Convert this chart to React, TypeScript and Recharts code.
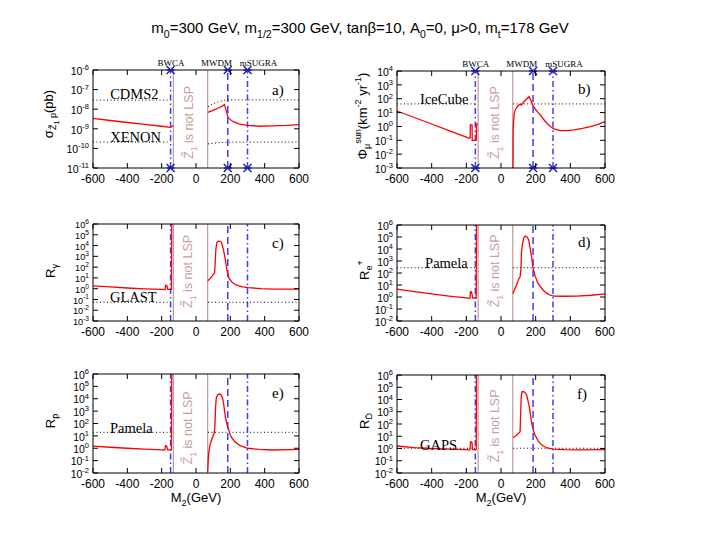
import React from 'react';
import { ComposedChart, Line, XAxis, YAxis, ReferenceLine, ReferenceDot, Scatter } from 'recharts';

type P = [number, number];

// ---------- axes ----------
const X_TICKS = [-600, -400, -200, 0, 200, 400, 600];
const A_TICKS = [1e-11, 1e-10, 1e-9, 1e-8, 1e-7, 1e-6];
const B_TICKS = [1e-3, 1e-2, 1e-1, 1, 10, 100, 1e3, 1e4];
const C_TICKS = [1e-3, 1e-2, 1e-1, 1, 10, 100, 1e3, 1e4, 1e5, 1e6];
const R_TICKS = [1e-2, 1e-1, 1, 10, 100, 1e3, 1e4, 1e5, 1e6];

// ---------- vertical markers ----------
const BWCA_X = -148;
const MWDM_X = 185;
const MSUGRA_X = 300;
const LSP_LO = -132;
const LSP_HI = 68;
const MARK_LABELS: [string, number][] = [['BWCA', -146], ['MWDM', 120], ['mSUGRA', 364]];

// ---------- panel a: sigma ----------
const A_RED_L: P[] = [[-600, 3.4e-9], [-500, 2.65e-9], [-400, 2.1e-9], [-300, 1.7e-9], [-200, 1.35e-9], [-150, 1.18e-9], [-142, 1.25e-9], [-133, 1.5e-9]];
const A_RED_R: P[] = [[68, 6.9e-9], [100, 8.8e-9], [130, 1.15e-8], [150, 1.4e-8], [166, 1.75e-8], [185, 4.2e-9], [195, 3.2e-9], [217, 2.3e-9], [250, 1.8e-9], [300, 1.5e-9], [370, 1.35e-9], [450, 1.4e-9], [530, 1.5e-9], [600, 1.65e-9]];
const A_CDMS_L: P[] = [[-600, 2.9e-8], [-150, 2.9e-8]];
const A_CDMS_R: P[] = [[70, 1.35e-8], [100, 1.9e-8], [130, 2.4e-8], [160, 2.8e-8], [190, 3e-8], [600, 3e-8]];
const A_XENON_L: P[] = [[-600, 2.1e-10], [-150, 2.1e-10]];
const A_XENON_R: P[] = [[70, 1.7e-10], [100, 1.85e-10], [150, 2e-10], [200, 2.1e-10], [600, 2.1e-10]];

// ---------- panel b: muon flux ----------
const B_RED_L: P[] = [[-600, 13], [-500, 4.4], [-400, 1.5], [-300, 0.5], [-200, 0.17], [-183, 0.14], [-178, 0.15], [-177, 1.3], [-167, 1.3], [-166, 0.1], [-143, 0.1], [-141, 1.5], [-134, 1.5]];
const B_RED_R: P[] = [[69, 0.001], [70, 0.3], [72, 2], [76, 8], [82, 15], [90, 23], [100, 32], [110, 40], [117, 35], [124, 45], [135, 65], [150, 100], [162, 140], [170, 90], [180, 45], [188, 28], [200, 16], [215, 10], [227, 6.7], [245, 3.3], [265, 1.7], [285, 1], [304, 0.66], [342, 0.5], [380, 0.5], [420, 0.56], [470, 0.72], [515, 0.95], [560, 1.4], [600, 2.2]];
const B_ICE_L: P[] = [[-600, 42], [-148, 42]];
const B_ICE_R: P[] = [[70, 42], [600, 42]];

// ---------- panel c: gamma ----------
const C_RED_L: P[] = [[-600, 1.8], [-500, 1.45], [-400, 1.15], [-300, 0.95], [-200, 0.85], [-180, 0.82], [-177, 2.0], [-170, 2.0], [-165, 0.85], [-143, 0.85], [-141, 1e7]];
const C_RED_R: P[] = [[68, 5.5], [80, 8], [90, 12], [100, 20], [108, 27], [112, 300], [116, 5000], [122, 2e4], [130, 2.6e4], [140, 2.5e4], [148, 2e4], [155, 8000], [160, 3900], [170, 600], [180, 54], [192, 9], [210, 4], [233, 2.2], [270, 1.5], [305, 1.25], [380, 1.0], [450, 0.9], [600, 0.9]];
const C_GLAST_L: P[] = [[-600, 0.055], [-148, 0.055]];
const C_GLAST_R: P[] = [[70, 0.055], [600, 0.055]];

// ---------- panel d: positrons ----------
const D_RED_L: P[] = [[-600, 4.6], [-500, 2.8], [-400, 1.8], [-300, 1.2], [-200, 0.85], [-183, 0.78], [-179, 0.8], [-176, 2.8], [-170, 2.6], [-163, 0.8], [-143, 0.8], [-141, 1e7]];
const D_RED_R: P[] = [[69, 2], [77, 3.8], [90, 10], [100, 26], [110, 49], [115, 200], [118, 5000], [124, 3e4], [132, 9e4], [140, 1.2e5], [150, 1e5], [160, 5.6e4], [167, 1.5e4], [173, 4400], [180, 900], [185, 245], [198, 50], [212, 15], [227, 7.2], [245, 3.5], [265, 2], [285, 1.4], [304, 1.2], [360, 1.15], [438, 1.2], [520, 1.4], [600, 1.8]];
const D_PAM_L: P[] = [[-600, 275], [-148, 275]];
const D_PAM_R: P[] = [[70, 275], [600, 275]];

// ---------- panel e: antiprotons ----------
const E_RED_L: P[] = [[-600, 1.5], [-500, 1.2], [-400, 1.0], [-300, 0.85], [-200, 0.75], [-186, 0.72], [-181, 0.75], [-177, 1.6], [-171, 1.5], [-165, 0.75], [-143, 0.75], [-141, 1e7]];
const E_RED_R: P[] = [[68, 0.011], [71, 0.1], [74, 0.4], [77, 0.8], [82, 2], [87, 3.4], [95, 7], [106, 16], [110, 60], [114, 2000], [118, 1.1e4], [125, 2e4], [136, 2.4e4], [145, 2.2e4], [155, 1.1e4], [162, 3000], [171, 350], [184, 55], [204, 8.5], [225, 3.5], [252, 1.8], [300, 1.0], [370, 0.8], [445, 0.72], [600, 0.8]];
const E_PAM_L: P[] = [[-600, 19.5], [-148, 19.5]];
const E_PAM_R: P[] = [[70, 19.5], [600, 19.5]];

// ---------- panel f: antideuterons ----------
const F_RED_L: P[] = [[-600, 1.6], [-500, 1.2], [-400, 1.0], [-300, 0.9], [-200, 0.8], [-183, 0.76], [-179, 0.8], [-176, 3.6], [-168, 3.4], [-164, 0.8], [-143, 0.8], [-141, 1e7]];
const F_RED_R: P[] = [[70, 7.6], [90, 12], [110, 23], [113, 500], [117, 2e4], [121, 4.3e4], [129, 4.5e4], [140, 3.5e4], [148, 2.3e4], [155, 9000], [163, 2600], [170, 600], [177, 115], [186, 35], [196, 12.6], [215, 4], [235, 1.9], [265, 1.1], [304, 0.9], [370, 0.8], [438, 0.76], [600, 0.8]];
const F_GAPS_L: P[] = [[-600, 1.05], [-148, 1.05]];
const F_GAPS_R: P[] = [[70, 1.05], [600, 1.05]];

// ---------- styles ----------
const SANS = '"Liberation Sans", Arial, Helvetica, sans-serif';
const SERIF = '"Liberation Serif", "Times New Roman", serif';
const BLUE = '#3d3df2';
const MARK = '#1a1aa8';
const BROWN = '#bd9090';
const LSP_TXT = '#c9a0a0';
const RED = '#ff0000';

const pts = (a: P[]) => a.map(([x, y]) => ({ x, y }));

type Seg = [string, 'n' | 'b' | 'bb' | 'p'];
function rich(segs: Seg[], base: number) {
  let cur = 0;
  return segs.map(([t, k], i) => {
    const off = k === 'n' ? 0 : k === 'b' ? base * 0.3 : k === 'bb' ? base * 0.5 : -base * 0.42;
    const size = k === 'n' ? base : k === 'bb' ? base * 0.55 : base * 0.7;
    const dy = off - cur;
    cur = off;
    return (
      <tspan key={i} dy={dy} fontSize={size}>
        {t}
      </tspan>
    );
  });
}

const BottomTick = (p: any) => (
  <g>
    <line x1={p.x} y1={p.y} x2={p.x} y2={p.y - 5} stroke="#000" strokeWidth={1} />
    <text x={p.x} y={p.y + 15} textAnchor="middle" fontSize={12} fontFamily={SANS} fill="#000">
      {p.payload.value}
    </text>
  </g>
);
const TopTick = (p: any) => <line x1={p.x} y1={p.y} x2={p.x} y2={p.y + 5} stroke="#000" strokeWidth={1} />;
const makeLeftTick = (big: number, small: number) => (p: any) => {
  const e = Math.round(Math.log10(p.payload.value));
  return (
    <g>
      <line x1={p.x} y1={p.y} x2={p.x + 5} y2={p.y} stroke="#000" strokeWidth={1} />
      <text x={p.x - 4} y={p.y + big * 0.45} textAnchor="end" fontFamily={SANS} fill="#000">
        <tspan fontSize={big}>10</tspan>
        <tspan fontSize={small} dy={-big * 0.45}>
          {e}
        </tspan>
      </text>
    </g>
  );
};
const LeftTick = makeLeftTick(10.5, 7.5);
const LeftTickDense = makeLeftTick(9.2, 6.6);
const RightTick = (p: any) => <line x1={p.x} y1={p.y} x2={p.x - 5} y2={p.y} stroke="#000" strokeWidth={1} />;

const XMark = (p: any) => (
  <path
    d={`M${p.cx - 4},${p.cy - 4}L${p.cx + 4},${p.cy + 4}M${p.cx - 4},${p.cy + 4}L${p.cx + 4},${p.cy - 4}M${p.cx - 4},${p.cy}L${p.cx + 4},${p.cy}`}
    stroke={MARK}
    strokeWidth={1.4}
    fill="none"
  />
);

interface Note {
  x: number;
  y: number;
  t: string;
}
interface PanelCfg {
  left: number;
  top: number;
  w: number;
  h: number;
  domain: [number, number];
  ticks: number[];
  overflow: boolean;
  red: P[][];
  dotted: P[][];
  notes: Note[];
  tag: Note;
  lsp: [number, number];
  markers: boolean;
}

const PANELS: PanelCfg[] = [
  { left: 93, top: 70, w: 206, h: 98, domain: [1e-11, 1e-6], ticks: A_TICKS, overflow: false, red: [A_RED_L, A_RED_R], dotted: [A_CDMS_L, A_CDMS_R, A_XENON_L, A_XENON_R], notes: [{ x: -500, y: 6e-8, t: 'CDMS2' }, { x: -500, y: 3.8e-10, t: 'XENON' }], tag: { x: 443, y: 9.5e-8, t: 'a)' }, lsp: [-45, 2.1e-9], markers: true },
  { left: 397, top: 71, w: 208, h: 97, domain: [1e-3, 1e4], ticks: B_TICKS, overflow: false, red: [B_RED_L, B_RED_R], dotted: [B_ICE_L, B_ICE_R], notes: [{ x: -467, y: 95, t: 'IceCube' }], tag: { x: 444, y: 500, t: 'b)' }, lsp: [-35, 1.9], markers: true },
  { left: 93, top: 224, w: 206, h: 97, domain: [1e-3, 1e6], ticks: C_TICKS, overflow: true, red: [C_RED_L, C_RED_R], dotted: [C_GLAST_L, C_GLAST_R], notes: [{ x: -501, y: 0.17, t: 'GLAST' }], tag: { x: 443, y: 1.7e4, t: 'c)' }, lsp: [-47, 40], markers: false },
  { left: 397, top: 225, w: 208, h: 96, domain: [1e-2, 1e6], ticks: R_TICKS, overflow: true, red: [D_RED_L, D_RED_R], dotted: [D_PAM_L, D_PAM_R], notes: [{ x: -438, y: 720, t: 'Pamela' }], tag: { x: 444, y: 3.8e4, t: 'd)' }, lsp: [-35, 148], markers: false },
  { left: 93, top: 374, w: 206, h: 99, domain: [1e-2, 1e6], ticks: R_TICKS, overflow: true, red: [E_RED_L, E_RED_R], dotted: [E_PAM_L, E_PAM_R], notes: [{ x: -501, y: 44, t: 'Pamela' }], tag: { x: 443, y: 2.9e4, t: 'e)' }, lsp: [-47, 44], markers: false },
  { left: 397, top: 375, w: 208, h: 98, domain: [1e-2, 1e6], ticks: R_TICKS, overflow: true, red: [F_RED_L, F_RED_R], dotted: [F_GAPS_L, F_GAPS_R], notes: [{ x: -467, y: 1.9, t: 'GAPS' }], tag: { x: 439, y: 2.8e4, t: 'f)' }, lsp: [-35, 69], markers: false },
];

const ML = 60;
const MR = 20;
const MT = 20;
const MB = 20;

function Panel({ cfg }: { cfg: PanelCfg }) {
  const marks = [BWCA_X, MWDM_X, MSUGRA_X].flatMap((x) => [
    { x, y: cfg.domain[0] },
    { x, y: cfg.domain[1] },
  ]);
  const ax = { xAxisId: 'b', yAxisId: 'l' } as const;
  const tickFn = cfg.ticks.length > 9 ? LeftTickDense : LeftTick;
  return (
    <div style={{ position: 'absolute', left: cfg.left - ML, top: cfg.top - MT }}>
      <ComposedChart width={cfg.w + ML + MR} height={cfg.h + MT + MB} margin={{ top: 0, right: 0, bottom: 0, left: 0 }}>
        <XAxis xAxisId="b" dataKey="x" type="number" domain={[-600, 600]} ticks={X_TICKS} interval={0} height={MB} tickSize={0} tickMargin={0} tickLine={false} tick={BottomTick} axisLine={{ stroke: '#000' }} />
        <XAxis xAxisId="t" orientation="top" dataKey="x" type="number" domain={[-600, 600]} ticks={X_TICKS} interval={0} height={MT} tickSize={0} tickMargin={0} tickLine={false} tick={TopTick} axisLine={{ stroke: '#000' }} />
        <YAxis yAxisId="l" dataKey="y" type="number" scale="log" domain={cfg.domain} ticks={cfg.ticks} interval={0} width={ML} tickSize={0} tickMargin={0} tickLine={false} tick={tickFn} axisLine={{ stroke: '#000' }} allowDataOverflow={cfg.overflow} />
        <YAxis yAxisId="r" orientation="right" dataKey="y" type="number" scale="log" domain={cfg.domain} ticks={cfg.ticks} interval={0} width={MR} tickSize={0} tickMargin={0} tickLine={false} tick={RightTick} axisLine={{ stroke: '#000' }} allowDataOverflow={cfg.overflow} />

        <ReferenceLine {...ax} x={LSP_LO} stroke={BROWN} strokeWidth={1.1} />
        <ReferenceLine {...ax} x={LSP_HI} stroke={BROWN} strokeWidth={1.1} />
        <ReferenceLine {...ax} x={BWCA_X} stroke={BLUE} strokeWidth={1.5} strokeDasharray="6 3 1.5 3" />
        <ReferenceLine {...ax} x={MWDM_X} stroke={BLUE} strokeWidth={1.5} strokeDasharray="7 4" />
        <ReferenceLine {...ax} x={MSUGRA_X} stroke={BLUE} strokeWidth={1.5} strokeDasharray="6 3 1.5 3" />

        {cfg.dotted.map((d, i) => (
          <Line key={'d' + i} {...ax} data={pts(d)} dataKey="y" stroke="#000" strokeWidth={1} strokeDasharray="1 2.5" dot={false} isAnimationActive={false} />
        ))}
        {cfg.red.map((d, i) => (
          <Line key={'r' + i} {...ax} data={pts(d)} dataKey="y" stroke={RED} strokeWidth={1.3} dot={false} type="linear" isAnimationActive={false} />
        ))}
        <Line xAxisId="t" yAxisId="r" data={pts(cfg.red[1])} dataKey="y" stroke="none" dot={false} isAnimationActive={false} />

        {cfg.markers && <Scatter {...ax} data={marks} dataKey="y" shape={XMark} isAnimationActive={false} />}
        {cfg.markers &&
          MARK_LABELS.map(([t, x]) => (
            <ReferenceDot
              key={t}
              {...ax}
              x={x}
              y={cfg.domain[1]}
              r={0}
              ifOverflow="visible"
              shape={(p: any) => (
                <text x={p.cx} y={p.cy - 4} textAnchor="middle" fontSize={9} fontFamily={SERIF} fill="#000">
                  {t}
                </text>
              )}
            />
          ))}

        {cfg.notes.map((n) => (
          <ReferenceDot
            key={n.t}
            {...ax}
            x={n.x}
            y={n.y}
            r={0}
            ifOverflow="visible"
            shape={(p: any) => (
              <text x={p.cx} y={p.cy + 5} textAnchor="start" fontSize={14.5} fontFamily={SERIF} fill="#000">
                {n.t}
              </text>
            )}
          />
        ))}
        <ReferenceDot
          {...ax}
          x={cfg.tag.x}
          y={cfg.tag.y}
          r={0}
          ifOverflow="visible"
          shape={(p: any) => (
            <text x={p.cx} y={p.cy + 5} textAnchor="start" fontSize={15} fontFamily={SERIF} fill="#000">
              {cfg.tag.t}
            </text>
          )}
        />
        <ReferenceDot
          {...ax}
          x={cfg.lsp[0]}
          y={cfg.lsp[1]}
          r={0}
          ifOverflow="visible"
          shape={(p: any) => (
            <text transform={`translate(${p.cx + 4.5},${p.cy}) rotate(-90)`} textAnchor="middle" fontSize={12.5} fontFamily={SANS} fill={LSP_TXT}>
              {rich([['Z\u0303', 'n'], ['1', 'b'], [' is not LSP', 'n']], 12.5)}
            </text>
          )}
        />
      </ComposedChart>
    </div>
  );
}

const Y_LABELS: { x: number; y: number; segs: Seg[] }[] = [
  { x: 48, y: 114, segs: [['\u03c3', 'n'], ['Z\u0303', 'b'], ['1', 'bb'], [' p', 'b'], ['(pb)', 'n']] },
  { x: 362, y: 116, segs: [['\u03a6', 'n'], ['\u03bc', 'b'], ['sun', 'p'], ['(km', 'n'], ['-2', 'p'], [' yr', 'n'], ['-1', 'p'], [')', 'n']] },
  { x: 50, y: 271, segs: [['R', 'n'], ['\u03b3', 'b']] },
  { x: 364, y: 270, segs: [['R', 'n'], ['e', 'b'], ['+', 'p']] },
  { x: 50, y: 421, segs: [['R', 'n'], ['p\u0304', 'b']] },
  { x: 364, y: 421, segs: [['R', 'n'], ['D\u0304', 'b']] },
];

export default function App() {
  return (
    <div style={{ position: 'absolute', left: 0, top: 0, width: 705, height: 545, background: '#fff', overflow: 'hidden' }}>
      {PANELS.map((c, i) => (
        <Panel key={i} cfg={c} />
      ))}
      <svg width={705} height={545} style={{ position: 'absolute', left: 0, top: 0, pointerEvents: 'none' }}>
        <text x={360} y={33} textAnchor="middle" fontFamily={SANS} fill="#000">
          {rich(
            [
              ['m', 'n'],
              ['0', 'b'],
              ['=300 GeV, m', 'n'],
              ['1/2', 'b'],
              ['=300 GeV, tan\u03b2=10, A', 'n'],
              ['0', 'b'],
              ['=0, \u03bc>0, m', 'n'],
              ['t', 'b'],
              ['=178 GeV', 'n'],
            ],
            15
          )}
        </text>
        {Y_LABELS.map((l, i) => (
          <text key={i} transform={`translate(${l.x + 4.5},${l.y}) rotate(-90)`} textAnchor="middle" fontFamily={SANS} fill="#000">
            {rich(l.segs, 13)}
          </text>
        ))}
        {[196, 501].map((x) => (
          <text key={x} x={x} y={502} textAnchor="middle" fontFamily={SANS} fill="#000">
            {rich([['M', 'n'], ['2', 'b'], ['(GeV)', 'n']], 13)}
          </text>
        ))}
      </svg>
    </div>
  );
}
